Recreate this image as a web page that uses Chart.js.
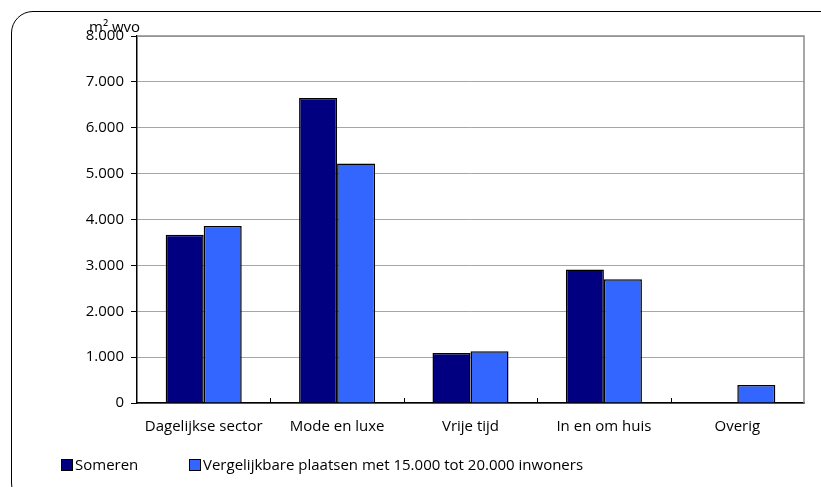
<!DOCTYPE html>
<html>
<head>
<meta charset="utf-8">
<script src="https://cdn.jsdelivr.net/npm/chart.js@4.4.0/dist/chart.umd.min.js"></script>
<style>
  html, body { margin: 0; padding: 0; background: #fff; }
  body { width: 821px; height: 487px; position: relative; overflow: hidden; font-family: "Open Sans", sans-serif; }
  .frame { position: absolute; left: 11px; top: 11px; width: 840px; height: 492px; border: 1.5px solid #000; border-radius: 22px; }
  .wrap { position: absolute; left: 0; top: 0; width: 821px; height: 487px; }
  #legend { position: absolute; left: 0; top: 455px; height: 18px; font-size: 15px; color: #000; }
  #legend .item { position: absolute; top: 0; white-space: nowrap; line-height: 18px; }
  #legend .box { display: inline-block; width: 10px; height: 10px; border: 1px solid #000; vertical-align: -1px; margin-right: 2px; }
</style>
</head>
<body>
<div class="frame"></div>
<div class="wrap"><canvas id="chart" width="821" height="487"></canvas></div>
<div id="legend"></div>
<script>
const categories = ['Dagelijkse sector', 'Mode en luxe', 'Vrije tijd', 'In en om huis', 'Overig'];
const someren = [3665, 6650, 1090, 2910, 0];
const vergelijkbaar = [3860, 5220, 1130, 2700, 390];
const seriesNames = ['Someren', 'Vergelijkbare plaatsen met 15.000 tot 20.000 inwoners'];
const seriesColors = ['#000080', '#3366ff'];
const yMin = 0, yMax = 8000, yStep = 1000;
const unitLabel = 'm² wvo';

function fmt(v) {
    return String(v).replace(/\B(?=(\d{3})+(?!\d))/g, '.');
}

// plot frame, inside category ticks and the unit label
const extras = {
    id: 'extras',
    beforeDatasetsDraw(chart) {
        const {ctx, chartArea: a, scales: {x}} = chart;
        ctx.save();
        ctx.strokeStyle = '#8c8c8c';
        ctx.lineWidth = 1.5;
        ctx.beginPath();
        ctx.moveTo(a.left, a.top);
        ctx.lineTo(a.right, a.top);
        ctx.lineTo(a.right, a.bottom);
        ctx.stroke();

        ctx.strokeStyle = '#000';
        ctx.lineWidth = 1;
        const half = (x.getPixelForValue(1) - x.getPixelForValue(0)) / 2;
        for (let i = 1; i < categories.length; i++) {
            const px = Math.round(x.getPixelForValue(i) - half) + 0.5;
            ctx.beginPath();
            ctx.moveTo(px, a.bottom);
            ctx.lineTo(px, a.bottom - 5);
            ctx.stroke();
        }
        ctx.restore();
    },
    afterDraw(chart) {
        const {ctx, chartArea: a} = chart;
        ctx.save();
        ctx.font = '15px "Open Sans"';
        ctx.fillStyle = '#000';
        ctx.textAlign = 'left';
        ctx.textBaseline = 'alphabetic';
        ctx.fillText(unitLabel, a.left - 48, a.top - 4);
        ctx.restore();
    }
};

const ctx = document.getElementById('chart');

const chart = new Chart(ctx, {
    type: 'bar',
    data: {
        labels: categories,
        datasets: [{
            label: seriesNames[0],
            data: someren,
            backgroundColor: seriesColors[0],
            borderColor: '#000',
            borderWidth: c => (c.raw ? 1.5 : 0)
        }, {
            label: seriesNames[1],
            data: vergelijkbaar,
            backgroundColor: seriesColors[1],
            borderColor: '#000',
            borderWidth: c => (c.raw ? 1.5 : 0)
        }]
    },
    options: {
        responsive: false,
        animation: false,
        layout: {
            padding: { left: 0, right: 17, top: 36, bottom: 44 }
        },
        datasets: {
            bar: { categoryPercentage: 0.57, barPercentage: 1.0 }
        },
        plugins: {
            legend: { display: false },
            tooltip: { enabled: false }
        },
        scales: {
            x: {
                grid: { display: false },
                border: { display: true, color: '#000', width: 1.5 },
                ticks: {
                    color: '#000',
                    padding: 7,
                    font: { family: 'Open Sans', size: 15 },
                    maxRotation: 0
                },
                afterFit(scale) { scale.height = 40; }
            },
            y: {
                min: yMin,
                max: yMax,
                grid: {
                    color: '#a6a6a6',
                    lineWidth: 1,
                    tickLength: 6,
                    tickColor: '#000'
                },
                border: { display: true, color: '#000', width: 1.5 },
                ticks: {
                    stepSize: yStep,
                    color: '#000',
                    padding: 7,
                    font: { family: 'Open Sans', size: 15 },
                    callback: v => fmt(v)
                },
                afterFit(scale) { scale.width = 137; }
            }
        }
    },
    plugins: [extras]
});

// legend built from the datasets
const legendEl = document.getElementById('legend');
const legendX = [61, 189];
chart.data.datasets.forEach((ds, i) => {
    const item = document.createElement('div');
    item.className = 'item';
    item.style.left = legendX[i] + 'px';
    item.innerHTML = '<span class="box" style="background:' + ds.backgroundColor + '"></span>' + ds.label;
    legendEl.appendChild(item);
});
</script>
</body>
</html>
